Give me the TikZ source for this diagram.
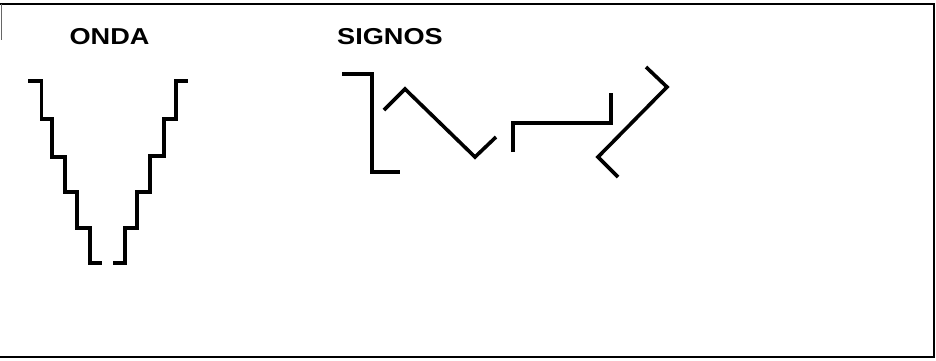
\documentclass[tikz,border=0pt]{standalone}
\usepackage{fontspec}
\setmainfont{Liberation Sans}
\begin{document}
\begin{tikzpicture}[x=1pt,y=-1pt,
  stroke/.style={line width=3.6pt,line join=miter,line cap=butt},
  frame/.style={line width=1.6pt},
  title/.style={font=\bfseries\fontsize{23}{25}\selectfont,xscale=1.18,inner sep=0pt,anchor=center}]
\useasboundingbox (0,0) rectangle (936,360);
% frame
\draw[frame] (0,4) -- (934,4) -- (934,357) -- (0,357);
\draw[line width=1pt,black!60] (1,4) -- (1,40);
% titles
\node[title] (onda) at (109.5,36.5) {ONDA};
\node[title] (signos) at (390,36.5) {SIGNOS};
% left staircase
\draw[stroke] (28,81) -- (41.5,81) -- (41.5,119) -- (52,119) -- (52,157) -- (65,157) -- (65,192) -- (77,192) -- (77,228) -- (90,228) -- (90,263) -- (102,263);
% right staircase
\draw[stroke] (113,263) -- (125,263) -- (125,228) -- (137,228) -- (137,192) -- (150,192) -- (150,156) -- (164,156) -- (164,119) -- (176,119) -- (176,81) -- (188,81);
% signs
\draw[stroke] (342,74) -- (372,74) -- (372,172) -- (400,172);
\draw[stroke] (384,110) -- (405,89) -- (475,157) -- (496,137);
\draw[stroke] (513,152) -- (513,123) -- (611,123) -- (611,93);
\draw[stroke] (646,67) -- (667,87) -- (598,157) -- (618,177);
\end{tikzpicture}
\end{document}
